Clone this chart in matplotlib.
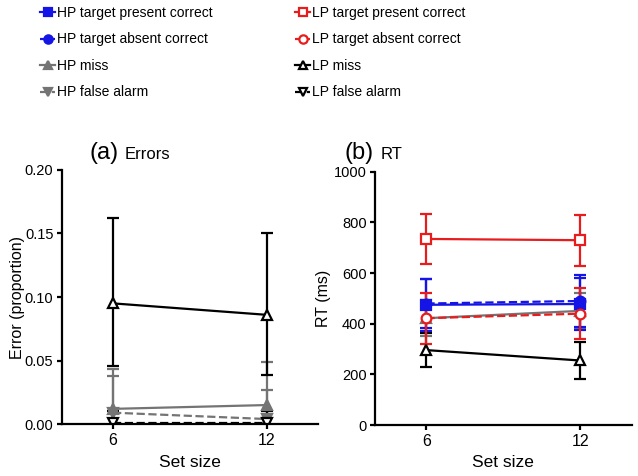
import numpy as np
import matplotlib
matplotlib.use('Agg')
import matplotlib.pyplot as plt
from matplotlib.lines import Line2D

plt.rcParams['font.family'] = ['Liberation Sans', 'DejaVu Sans']

# data
set_size = [6, 12]

# (a) errors, proportion
err_hp_miss = [0.012, 0.015]
err_hp_miss_sd = [0.031, 0.034]
err_hp_fa = [0.009, 0.004]
err_hp_fa_sd = [0.029, 0.023]
err_lp_miss = [0.095, 0.086]
err_lp_miss_lo = [0.049, 0.047]
err_lp_miss_hi = [0.067, 0.064]
err_lp_fa = [0.001, 0.001]
err_lp_fa_sd = [0.009, 0.009]

# (b) RT, ms
rt_hp_tp = [475, 478]
rt_hp_tp_sd = [102, 104]
rt_hp_ta = [480, 490]
rt_hp_ta_sd = [97, 103]
rt_hp_miss = [422, 451]
rt_hp_miss_sd = [72, 72]
rt_lp_tp = [735, 730]
rt_lp_tp_sd = [100, 100]
rt_lp_ta = [422, 440]
rt_lp_ta_sd = [100, 100]
rt_lp_miss = [296, 255]
rt_lp_miss_sd = [68, 72]

BLUE = '#1414e6'
RED = '#e81c1c'
GREY = '#747474'
BLACK = '#000000'

styles = {
    'HP target present correct': dict(color=BLUE, ls='-', marker='s', mfc=BLUE),
    'HP target absent correct': dict(color=BLUE, ls='--', marker='o', mfc=BLUE),
    'HP miss': dict(color=GREY, ls='-', marker='^', mfc=GREY),
    'HP false alarm': dict(color=GREY, ls='--', marker='v', mfc=GREY),
    'LP target present correct': dict(color=RED, ls='-', marker='s', mfc='white'),
    'LP target absent correct': dict(color=RED, ls='--', marker='o', mfc='white'),
    'LP miss': dict(color=BLACK, ls='-', marker='^', mfc='white'),
    'LP false alarm': dict(color=BLACK, ls='--', marker='v', mfc='white'),
}


def draw(ax, name, y, yerr):
    st = styles[name]
    ax.errorbar(set_size, y, yerr=yerr, color=st['color'], ls=st['ls'],
                marker=st['marker'], mfc=st['mfc'], mec=st['color'],
                ms=7, mew=1.6, lw=1.6, elinewidth=1.6, capsize=4.5,
                capthick=1.8)


def style_axes(ax):
    for s in ['top', 'right']:
        ax.spines[s].set_visible(False)
    for s in ['left', 'bottom']:
        ax.spines[s].set_linewidth(1.6)
    ax.tick_params(width=1.6, length=3.6, pad=2.5, labelsize=10.5)
    ax.tick_params(axis='x', labelsize=11.5)
    ax.set_xlim(4, 14)
    ax.set_xticks(set_size)
    ax.set_xlabel('Set size', fontsize=12.5, labelpad=5)


fig = plt.figure(figsize=(6.38, 4.76), dpi=100)
ax1 = fig.add_axes([0.097, 0.109, 0.401, 0.534])
ax2 = fig.add_axes([0.588, 0.107, 0.402, 0.532])

# (a) Errors
draw(ax1, 'HP false alarm', err_hp_fa, err_hp_fa_sd)
draw(ax1, 'HP miss', err_hp_miss, err_hp_miss_sd)
draw(ax1, 'LP false alarm', err_lp_fa, err_lp_fa_sd)
draw(ax1, 'LP miss', err_lp_miss, [err_lp_miss_lo, err_lp_miss_hi])
ax1.set_ylim(0, 0.2)
ax1.set_yticks([0, 0.05, 0.10, 0.15, 0.20])
ax1.set_yticklabels(['0.00', '0.05', '0.10', '0.15', '0.20'])
ax1.set_ylabel('Error (proportion)', fontsize=11.5, labelpad=0)
style_axes(ax1)

# (b) RT
draw(ax2, 'LP miss', rt_lp_miss, rt_lp_miss_sd)
draw(ax2, 'HP miss', rt_hp_miss, rt_hp_miss_sd)
draw(ax2, 'HP target present correct', rt_hp_tp, rt_hp_tp_sd)
draw(ax2, 'HP target absent correct', rt_hp_ta, rt_hp_ta_sd)
draw(ax2, 'LP target absent correct', rt_lp_ta, rt_lp_ta_sd)
draw(ax2, 'LP target present correct', rt_lp_tp, rt_lp_tp_sd)
ax2.set_ylim(0, 1000)
ax2.set_yticks([0, 200, 400, 600, 800, 1000])
ax2.set_ylabel('RT (ms)', fontsize=11.5, labelpad=2)
style_axes(ax2)

# panel titles
fig.text(90 / 638, 1 - 159 / 476, '(a)', fontsize=17, va='baseline')
fig.text(125 / 638, 1 - 159 / 476, 'Errors', fontsize=12, va='baseline')
fig.text(345 / 638, 1 - 159 / 476, '(b)', fontsize=17, va='baseline')
fig.text(381 / 638, 1 - 159 / 476, 'RT', fontsize=12, va='baseline')

# legends, two columns
def handles(names):
    out = []
    for n in names:
        st = styles[n]
        out.append(Line2D([], [], color=st['color'], ls=st['ls'], marker=st['marker'],
                          mfc=st['mfc'], mec=st['color'], ms=6, mew=1.6, lw=1.6))
    return out

left_names = ['HP target present correct', 'HP target absent correct', 'HP miss', 'HP false alarm']
right_names = ['LP target present correct', 'LP target absent correct', 'LP miss', 'LP false alarm']
for names, x0 in [(left_names, 40 / 638), (right_names, 295 / 638)]:
    fig.legend(handles(names), names, loc='upper left', bbox_to_anchor=(x0, 1 - 6 / 476),
               frameon=False, fontsize=10, handlelength=1.1, handletextpad=0.15,
               labelspacing=0.9, borderpad=0, borderaxespad=0)

fig.savefig('out.png', dpi=100)
